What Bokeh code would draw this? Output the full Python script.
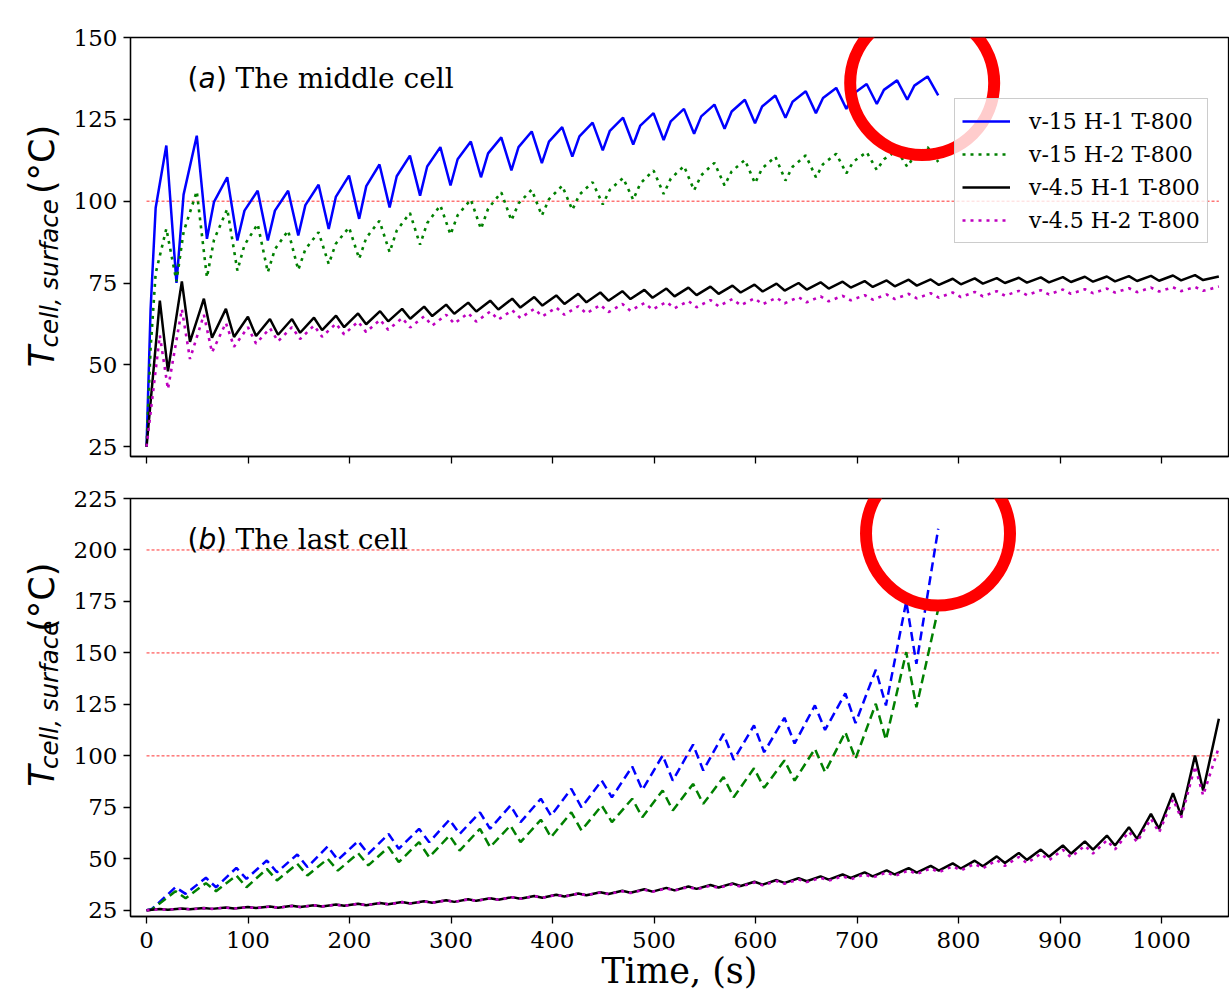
from math import pi
from bokeh.plotting import figure
from bokeh.models import (Range1d, FixedTicker, Legend, LegendItem, Label, BoxAnnotation,
                          CustomLabelingPolicy)
from bokeh.layouts import column, row
from bokeh.embed import file_html
from bokeh.resources import INLINE

# ---------------- data ----------------
SERIES_LABELS = ["v-15 H-1 T-800", "v-15 H-2 T-800", "v-4.5 H-1 T-800", "v-4.5 H-2 T-800"]
X_TICKS = [0, 100, 200, 300, 400, 500, 600, 700, 800, 900, 1000]
Y_TICKS_TOP = [25, 50, 75, 100, 125, 150]
Y_TICKS_BOT = [25, 50, 75, 100, 125, 150, 175, 200, 225]
THRESH_TOP = [100]
THRESH_BOT = [100, 150, 200]

# v-15 series, middle cell (time vertices, s)
t_fast_a = [0, 4, 9, 19.5, 29.5, 36.5, 49.5, 59.5, 66.5, 79.5, 89.5, 96.5, 109.5, 119.5, 126.5,
            139.5, 149.5, 156.5, 169.5, 179.5, 186.5, 199.5, 209.5, 216.5, 229.5, 239.5, 246.5,
            259.5, 269.5, 276.5, 289.5, 299.5, 306.5, 319.5, 329.5, 336.5, 349.5, 359.5, 366.5,
            379.5, 389.5, 396.5, 409.5, 419.5, 426.5, 439.5, 449.5, 456.5, 469.5, 479.5, 486.5,
            499.5, 509.5, 516.5, 529.5, 539.5, 546.5, 559.5, 569.5, 576.5, 589.5, 599.5, 606.5,
            619.5, 629.5, 636.5, 649.5, 659.5, 666.5, 679.5, 689.5, 696.5, 709.5, 719.5, 726.5,
            739.5, 749.5, 756.5, 769.5, 780]
blue_a = [25, 67, 98, 117, 75, 102, 120, 88.5, 99.8, 107.3, 88, 97.1, 103.2, 88, 97.1, 103.2,
          89.5, 98.8, 105, 91.5, 101.3, 107.8, 94.6, 104.6, 111.2, 98.1, 107.6, 113.9, 101.7, 110.6,
          116.5, 104.8, 112.8, 118.2, 107.3, 114.6, 119.5, 109.4, 116.5, 121.3, 111.6, 118.2, 122.6,
          113.6, 119.8, 124, 115.5, 121.5, 125.5, 117.3, 123.1, 126.9, 118.7, 124.4, 128.2, 120.6,
          125.9, 129.5, 122.1, 127.4, 131, 123.8, 128.9, 132.3, 125.5, 130.4, 133.6, 126.9, 131.5,
          134.6, 128.2, 132.8, 135.8, 129.7, 134, 136.9, 131, 135.3, 138.1, 132.3]
green_a = [25, 55, 78, 91.6, 75.5, 90.6, 103, 76.7, 88.2, 97.6, 78.8, 86.6, 93, 78.3, 85.3, 91,
           79, 85.3, 90.5, 80.8, 87, 92, 82.4, 88.8, 94, 84.4, 91, 96.4, 86.7, 93.3, 98.7,
           89.8, 95.7, 100.5, 91.5, 97.7, 102.7, 94.1, 99.3, 103.5, 95.6, 100.6, 104.7,
           97.3, 102, 105.8, 99, 103.5, 107.1, 100.4, 105.4, 109.4, 102.2, 106.9, 110.7,
           103.3, 107.9, 111.7, 104.8, 109.1, 112.6, 105.5, 110, 113.6, 106.3, 110.5, 114,
           107.3, 111.3, 114.5, 108.5, 112.1, 115, 109.5, 112.8, 115.5, 110.5, 113.8, 116.5, 112]

# v-4.5 series (time vertices, s), shared by both panels
t_slow = [0, 13.1, 21.1, 34.8, 42.8, 56.5, 64.5, 78.2, 86.2, 99.9, 107.9, 121.6, 129.6, 143.3, 151.3,
          165.0, 173.0, 186.7, 194.7, 208.4, 216.4, 230.1, 238.1, 251.8, 259.8, 273.5, 281.5,
          295.2, 303.2, 316.9, 324.9, 338.6, 346.6, 360.3, 368.3, 382.0, 390.0, 403.7, 411.7,
          425.4, 433.4, 447.1, 455.1, 468.8, 476.8, 490.5, 498.5, 512.2, 520.2, 533.9, 541.9,
          555.6, 563.6, 577.3, 585.3, 599.0, 607.0, 620.7, 628.7, 642.4, 650.4, 664.1, 672.1,
          685.8, 693.8, 707.5, 715.5, 729.2, 737.2, 750.9, 758.9, 772.6, 780.6, 794.3, 802.3,
          816.0, 824.0, 837.7, 845.7, 859.4, 867.4, 881.1, 889.1, 902.8, 910.8, 924.5, 932.5,
          946.2, 954.2, 967.9, 975.9, 989.6, 997.6, 1011.3, 1019.3, 1033.0, 1041.0, 1056.5]
black_a = [25, 69.6, 48, 75.5, 57, 70.2, 58.3, 67.1, 58.5, 64.7, 58.8, 64, 59.2, 64, 59.8, 64.4, 60.6,
           65, 61.5, 65.7, 62.4, 66.4, 63.3, 67.1, 64.1, 67.8, 64.9, 68.4, 65.6, 69, 66.3, 69.6, 66.9,
           70.2, 67.5, 70.7, 68.1, 71.2, 68.6, 71.7, 69.1, 72.1, 69.6, 72.5, 70.1, 72.9, 70.5,
           73.3, 70.9, 73.6, 71.3, 73.9, 71.7, 74.2, 72.1, 74.5, 72.4, 74.8, 72.7, 75, 73,
           75.2, 73.3, 75.4, 73.6, 75.6, 73.8, 75.8, 74, 76, 74.2, 76.1, 74.4, 76.3, 74.6,
           76.4, 74.8, 76.5, 75, 76.6, 75.1, 76.7, 75.2, 76.8, 75.3, 76.9, 75.4, 77, 75.5,
           77.1, 75.6, 77.2, 75.7, 77.3, 75.8, 77.4, 75.9, 77.0]
magenta_a = [25, 59, 42.6, 67, 51.8, 65.3, 53.8, 62.8, 55.5, 61.5, 56.5, 61.2, 57.2, 61.5, 57.9,
             62, 58.6, 62.6, 59.3, 63.2, 60, 63.8, 60.7, 64.3, 61.4, 64.8, 62, 65.3, 62.6,
             65.8, 63.2, 66.3, 63.8, 66.7, 64.3, 67.1, 64.8, 67.5, 65.3, 67.9, 65.7, 68.3, 66.1,
             68.6, 66.5, 68.9, 66.9, 69.2, 67.3, 69.5, 67.6, 69.8, 67.9, 70.1, 68.2, 70.3, 68.5,
             70.5, 68.8, 70.7, 69.1, 70.9, 69.4, 71.1, 69.7, 71.3, 69.9, 71.5, 70.1, 71.7, 70.3,
             71.9, 70.5, 72.1, 70.7, 72.3, 70.9, 72.5, 71.1, 72.6, 71.3, 72.8, 71.5, 73, 71.7,
             73.1, 71.9, 73.3, 72.1, 73.4, 72.2, 73.6, 72.4, 73.7, 72.5, 73.8, 72.6, 73.9]

# last cell
t_fast_b = [0, 5, 28.5, 38.5, 58.5, 68.5, 88.5, 98.5, 118.5, 128.5, 148.5, 158.5, 178.5, 188.5,
            208.5, 218.5, 238.5, 248.5, 268.5, 278.5, 298.5, 308.5, 328.5, 338.5, 358.5, 368.5,
            388.5, 398.5, 418.5, 428.5, 448.5, 458.5, 478.5, 488.5, 508.5, 518.5, 538.5, 548.5,
            568.5, 578.5, 598.5, 608.5, 628.5, 638.5, 658.5, 668.5, 688.5, 698.5, 718.5, 728.5,
            748.5, 758.5, 780]
blue_b = [25, 25.5, 36.2, 33, 40.8, 36.2, 45.6, 40.3, 49.2, 43.5, 52.1, 46, 56, 49.5, 58.6, 52.4,
          62.1, 54.9, 64.6, 58.1, 69, 62.1, 72.6, 64.6, 75.9, 67.8, 79.2, 71, 84, 75, 88, 79.9,
          94.8, 83.5, 100.2, 88, 105.5, 92.9, 110.7, 98.1, 114.8, 101.8, 118.5, 106, 124.5, 112.6,
          130.4, 115.9, 141.8, 124.5, 175, 144.7, 210.3]
green_b = [25, 25.3, 34.3, 30.9, 38.2, 34.3, 41.9, 36.2, 45.1, 39.5, 47.6, 41.9, 50, 44.3, 52.7, 46.8,
           55.7, 48.4, 58.1, 50.8, 61.3, 54, 64.6, 55.7, 66.2, 58.1, 69, 60.5, 72.6, 63.8, 75.9, 67.8,
           79.2, 70.2, 83.2, 73.5, 86.4, 76.7, 89.7, 79.9, 94, 84.5, 97.8, 88, 103.4, 92.1,
           111.5, 98.6, 125.3, 107.8, 150.4, 123.6, 171.4]
black_b = [25, 25.6, 25.3, 25.9, 25.5, 26.1, 25.7, 26.4, 25.9, 26.6, 26.1, 26.9, 26.3, 27.2, 26.6,
           27.5, 26.9, 27.8, 27.2, 28.2, 27.5, 28.6, 27.9, 29, 28.3, 29.4, 28.7, 29.9, 29.1,
           30.4, 29.6, 30.9, 30.1, 31.4, 30.6, 32, 31.1, 32.6, 31.7, 33.2, 32.3, 33.8, 32.9,
           34.5, 33.5, 35.2, 34.1, 35.9, 34.7, 36.6, 35.4, 37.3, 36.1, 38.1, 36.8, 38.9, 37.5,
           39.7, 38.3, 40.6, 39.1, 41.5, 39.9, 42.4, 40.7, 43.4, 41.5, 44.4, 42.4, 45.5, 43.3,
           46.6, 44.3, 47.8, 45.3, 49.1, 46.4, 51.2, 48, 52.8, 49.5, 54.5, 51, 56.5, 52.5,
           58.5, 54.5, 61.3, 56.5, 65.4, 59.7, 71.8, 64.6, 81.9, 71, 100.2, 83.2, 118]
magenta_b = [25, 25.5, 25.3, 25.8, 25.5, 26, 25.7, 26.3, 25.9, 26.5, 26.1, 26.8, 26.3, 27.1, 26.6,
             27.4, 26.9, 27.7, 27.2, 28.1, 27.5, 28.5, 27.9, 28.9, 28.3, 29.3, 28.7, 29.8, 29.1,
             30.3, 29.6, 30.8, 30.1, 31.3, 30.6, 31.9, 31.1, 32.5, 31.7, 33.1, 32.3, 33.7, 32.9,
             34.3, 33.4, 35, 34, 35.7, 34.6, 36.3, 35.2, 37, 35.9, 37.7, 36.5, 38.5, 37.2,
             39.2, 37.9, 40, 38.7, 40.8, 39.4, 41.6, 40.1, 42.5, 40.9, 43.4, 41.7, 44.4, 42.6,
             45.4, 43.5, 46.4, 44.4, 47.6, 45.4, 49.4, 46.6, 50.9, 47.9, 52.5, 49.3, 54.4, 50.8,
             56.4, 52.6, 59, 54.6, 63.2, 58.2, 69.5, 62.8, 79, 69.8, 95, 80.8, 104.2]

# ---------------- layout constants ----------------
W_TOTAL = 1229
LAB_W = 68                      # strip holding the y-axis titles
W = W_TOTAL - LAB_W
BL, BR = 130 - LAB_W, 1         # frame starts at page x = 130
FRAME_W = W - BL - BR
X0, X1 = -15.8, 1066
XPP = FRAME_W / (X1 - X0)
SERIF = "DejaVu Serif"
SANS = "DejaVu Sans"

x_range = Range1d(X0, X1)


def make_fig(height, y0, y1, yticks, b_top, b_bot):
    p = figure(width=W, height=height, x_range=x_range, y_range=Range1d(y0, y1),
               output_backend="svg", toolbar_location=None,
               min_border_left=BL, min_border_right=BR,
               min_border_top=b_top, min_border_bottom=b_bot)
    p.grid.visible = False
    p.xaxis.ticker = FixedTicker(ticks=X_TICKS)
    p.yaxis.ticker = FixedTicker(ticks=yticks)
    for ax in (p.xaxis[0], p.yaxis[0]):
        ax.major_label_text_font = SERIF
        ax.major_label_text_font_size = "23px"
        ax.major_label_text_color = "#000000"
        ax.major_tick_in = 0
        ax.major_tick_out = 7
        ax.minor_tick_in = 0
        ax.minor_tick_out = 0
        ax.major_tick_line_width = 1.3
        ax.major_tick_line_color = "black"
        ax.axis_line_width = 1.3
        ax.axis_line_color = "black"
    p.yaxis[0].major_label_standoff = 6
    p.xaxis[0].major_label_standoff = 8
    p.outline_line_color = "black"
    p.outline_line_width = 1.3
    p.outline_line_alpha = 1.0
    return p


def label_strip(height, page_top, center_py):
    """A narrow axis-less figure carrying the rotated, mixed-style y-axis title."""
    s = figure(width=LAB_W, height=height, x_range=Range1d(0, LAB_W), y_range=Range1d(0, height),
               output_backend="svg", toolbar_location=None,
               min_border_left=0, min_border_right=0, min_border_top=0, min_border_bottom=0)
    s.axis.visible = False
    s.grid.visible = False
    s.outline_line_color = None
    to_y = lambda py: height - (py - page_top)
    start = center_py + 124.5
    sub = start - 22.4
    unit = sub - 172
    common = dict(angle=pi / 2, text_align="left", text_baseline="alphabetic",
                  text_color="black", text_font=SANS)
    s.add_layout(Label(x=41, y=to_y(start), text="T", text_font_style="italic",
                       text_font_size="35px", **common))
    s.add_layout(Label(x=49, y=to_y(sub), text="cell, surface", text_font_style="italic",
                       text_font_size="24.5px", **common))
    s.add_layout(Label(x=41, y=to_y(unit), text="(°C)", text_font_size="35px", **common))
    return s


def thresholds(p, levels):
    p.segment(x0=[t_slow[0]] * len(levels), x1=[t_slow[-1]] * len(levels), y0=levels, y1=levels,
              line_color="#ff0000", line_width=0.9, line_dash="3 2", line_alpha=0.9)


def panel_title(p, y, letter, rest):
    p.add_layout(Label(x=187 - 130, y=y, x_units="screen", text="(", text_font=SANS, text_font_size="28px",
                       text_baseline="alphabetic", text_color="black"))
    p.add_layout(Label(x=198 - 130, y=y, x_units="screen", text=letter, text_font=SANS, text_font_style="italic",
                       text_font_size="28px", text_baseline="alphabetic", text_color="black"))
    p.add_layout(Label(x=215.5 - 130, y=y, x_units="screen", text=")", text_font=SANS, text_font_size="28px",
                       text_baseline="alphabetic", text_color="black"))
    p.add_layout(Label(x=235 - 130, y=y, x_units="screen", text=rest, text_font=SERIF, text_font_size="28px",
                       text_baseline="alphabetic", text_color="black"))


def ring(p, cx, cy, r_px, ypp):
    p.add_layout(BoxAnnotation(left=cx - r_px / XPP, right=cx + r_px / XPP,
                               bottom=cy - r_px / ypp, top=cy + r_px / ypp,
                               fill_color=None, fill_alpha=0, line_color="#ff0000", line_width=12,
                               line_alpha=1, border_radius=r_px, level="overlay"))


NO_LABELS = CustomLabelingPolicy(code="""
try { indices.clear() } catch (e) {
  for (const i of Array.from(indices)) { try { indices.unset(i) } catch (e2) {} }
}
return indices
""")

# ---------------- top panel ----------------
YA0, YA1 = 22, 150
FH_A = 419
H_A = 470
p1 = make_fig(H_A, YA0, YA1, Y_TICKS_TOP, 37, 14)
p1.xaxis[0].major_label_text_font_size = "0px"
p1.xaxis[0].major_label_standoff = 0
p1.xaxis[0].major_label_policy = NO_LABELS
thresholds(p1, THRESH_TOP)
r1 = p1.line(t_fast_a, blue_a, line_color="#0000ff", line_width=2.5)
r2 = p1.line(t_fast_a, green_a, line_color="#008000", line_width=2.6, line_dash="3 5")
r3 = p1.line(t_slow, black_a, line_color="#000000", line_width=2.5)
r4 = p1.line(t_slow, magenta_a, line_color="#bf00bf", line_width=2.6, line_dash="3 5")

to_y_top = lambda py: YA1 - (py - 37) / (FH_A / (YA1 - YA0))
panel_title(p1, to_y_top(78), "a", "The middle cell")

legend = Legend(items=[LegendItem(label=lab, renderers=[r]) for lab, r in zip(SERIES_LABELS, [r1, r2, r3, r4])],
                location=(824, 213), orientation="vertical",
                label_text_font=SERIF, label_text_font_size="22px", label_text_color="black",
                glyph_width=48, glyph_height=30, label_height=30, label_standoff=19,
                spacing=3, padding=7, margin=0,
                border_line_color="#cccccc", border_line_width=1, border_line_alpha=1,
                background_fill_color="white", background_fill_alpha=0.8)
p1.add_layout(legend)
ring(p1, 764.2, 136.1, 72, FH_A / (YA1 - YA0))
s1 = label_strip(H_A, 0, 245.5)

# ---------------- bottom panel ----------------
YB0, YB1 = 22, 225
FH_B = 418
H_B = 524
p2 = make_fig(H_B, YB0, YB1, Y_TICKS_BOT, 28, 78)
thresholds(p2, THRESH_BOT)
p2.line(t_fast_b, blue_b, line_color="#0000ff", line_width=2.5, line_dash="9 5")
p2.line(t_fast_b, green_b, line_color="#008000", line_width=2.5, line_dash="9 5")
p2.line(t_slow, black_b, line_color="#000000", line_width=2.5)
p2.line(t_slow, magenta_b, line_color="#bf00bf", line_width=2.6, line_dash="3 5")
p2.xaxis[0].axis_label = "Time, (s)"
p2.xaxis[0].axis_label_text_font = SERIF
p2.xaxis[0].axis_label_text_font_size = "35px"
p2.xaxis[0].axis_label_text_font_style = "normal"
p2.xaxis[0].axis_label_text_color = "black"
p2.xaxis[0].axis_label_standoff = 0

to_y_bot = lambda py: YB1 - (py - 498) / (FH_B / (YB1 - YB0))
panel_title(p2, to_y_bot(539), "b", "The last cell")
ring(p2, 779.8, 208, 72, FH_B / (YB1 - YB0))
s2 = label_strip(H_B, H_A, 707)

layout = column(row(s1, p1, spacing=0), row(s2, p2, spacing=0), spacing=0)
open("out.html", "w").write(file_html(layout, INLINE))
